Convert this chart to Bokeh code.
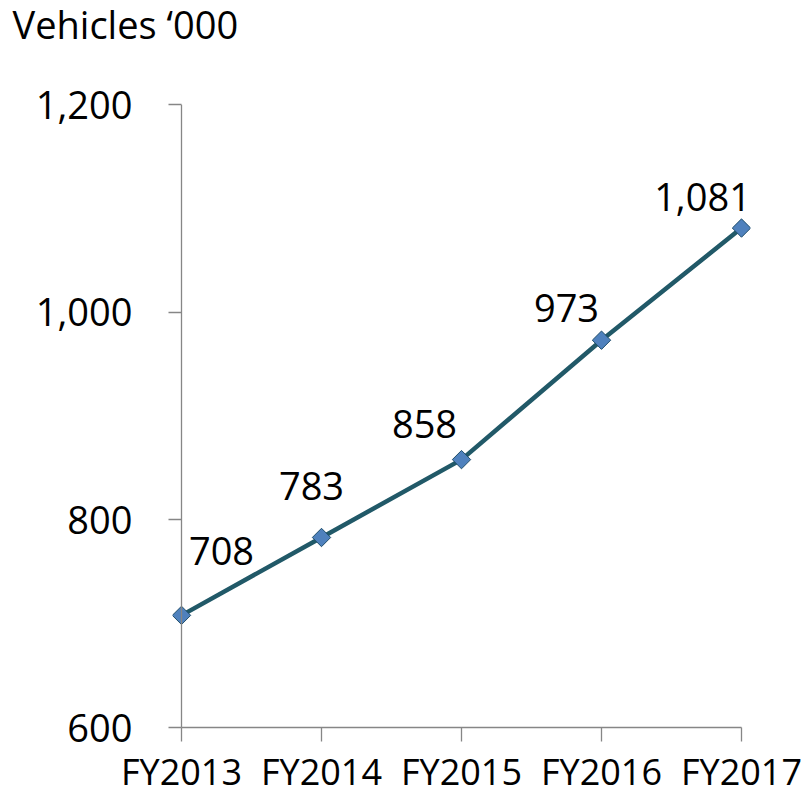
from bokeh.plotting import figure
from bokeh.models import Range1d, FixedTicker, NumeralTickFormatter, ColumnDataSource, Span, Title
from bokeh.core.properties import value
from bokeh.embed import file_html
from bokeh.resources import INLINE
import math

categories = ["FY2013", "FY2014", "FY2015", "FY2016", "FY2017"]
vehicles = [708, 783, 858, 973, 1081]
value_labels = ["708", "783", "858", "973", "1,081"]
y_ticks = [600, 800, 1000, 1200]

# label placement (styling, px)
label_dx = [40, -10, -37, -35, -39]
label_dy = [-64, -51, -36, -32, -31]

FONT = "Open Sans"
AXIS_COLOR = "#868686"
PAD = 9 / 140  # small x padding so end markers are not clipped

xs = list(range(len(categories)))
src = ColumnDataSource(dict(x=xs, y=vehicles, lab=value_labels, dx=label_dx, dy=label_dy))

p = figure(width=805, height=798, x_range=Range1d(-PAD, len(categories) - 1 + PAD),
           y_range=Range1d(600, 1200), output_backend="svg", toolbar_location=None,
           min_border_left=172, min_border_right=55, min_border_top=102, min_border_bottom=71)
p.outline_line_color = None
p.grid.visible = False
p.background_fill_color = "white"
p.border_fill_color = "white"

# empty spacer panel between the unit title and the plot area
p.add_layout(Title(text=" ", text_font_size="2px", standoff=52), "above")

p.title.text = "Vehicles \u2018000"
p.title.align = "left"
p.title.vertical_align = "top"
p.title.offset = -160
p.title.text_font = FONT
p.title.text_font_size = "38px"
p.title.text_font_style = "normal"
p.title.text_color = "black"
p.title.standoff = -6

# value axis line drawn at the first category position
p.add_layout(Span(location=0, dimension="height", line_color=AXIS_COLOR, line_width=1.3))

p.line("x", "y", source=src, line_color="#215968", line_width=4.5)
p.scatter("x", "y", source=src, marker="square", size=13, angle=math.pi / 4,
          fill_color="#4F81BD", line_color="#1F4E6B", line_width=1)
p.text("x", "y", text="lab", source=src, x_offset="dx", y_offset="dy",
       text_align="center", text_baseline="middle", text_font=value(FONT),
       text_font_size="38px", text_color="black")

ya = p.yaxis[0]
ya.ticker = FixedTicker(ticks=y_ticks)
ya.formatter = NumeralTickFormatter(format="0,0")
ya.major_tick_out = 4
ya.major_tick_in = 9
ya.minor_tick_out = 0
ya.minor_tick_in = 0
ya.axis_line_color = None
ya.major_tick_line_color = AXIS_COLOR
ya.major_tick_line_width = 1.3
ya.major_label_text_font = FONT
ya.major_label_text_font_size = "38px"
ya.major_label_text_color = "black"
ya.major_label_standoff = 36

xa = p.xaxis[0]
xa.bounds = (0, len(categories) - 1)
xa.ticker = FixedTicker(ticks=xs)
xa.major_label_overrides = {i: c for i, c in zip(xs, categories)}
xa.major_tick_out = 14
xa.major_tick_in = 0
xa.minor_tick_out = 0
xa.minor_tick_in = 0
xa.axis_line_color = AXIS_COLOR
xa.major_tick_line_color = AXIS_COLOR
xa.axis_line_width = 1.3
xa.major_tick_line_width = 1.3
xa.major_label_text_font = FONT
xa.major_label_text_font_size = "36px"
xa.major_label_text_color = "black"
xa.major_label_standoff = 5
xa.major_label_text_line_height = 1.0

open("out.html", "w").write(file_html(p, INLINE))
